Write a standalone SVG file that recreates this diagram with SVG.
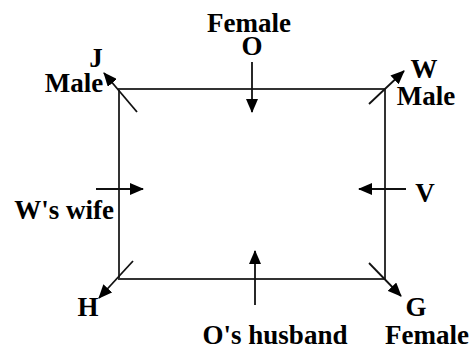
<svg xmlns="http://www.w3.org/2000/svg" width="476" height="352" viewBox="0 0 476 352">
<style>
text{font-family:"Liberation Serif","Times New Roman",serif;font-weight:bold;font-size:27px;fill:#000;text-anchor:middle}
.box{fill:none;stroke:#333;stroke-width:2}
.arr{stroke:#111;stroke-width:1.8;fill:none;marker-end:url(#ah)}
</style>
<defs>
<marker id="ah" markerUnits="userSpaceOnUse" markerWidth="14" markerHeight="12" viewBox="0 0 14 12" refX="13" refY="6" orient="auto">
<path d="M0,0 L14,6 L0,12 Z" fill="#000"/>
</marker>
</defs>
<g id="frame"><rect class="box" x="119" y="89" width="266" height="190"/></g>
<g id="connectors">
<line class="arr" x1="137" y1="112" x2="104" y2="73"/>
<line class="arr" x1="369" y1="104" x2="404" y2="71"/>
<line class="arr" x1="252" y1="62" x2="252" y2="112"/>
<line class="arr" x1="96" y1="189" x2="143" y2="189"/>
<line class="arr" x1="406" y1="189" x2="359" y2="189"/>
<line class="arr" x1="133" y1="261" x2="99" y2="298"/>
<line class="arr" x1="369" y1="263" x2="401" y2="296"/>
<line class="arr" x1="255" y1="305" x2="255" y2="251"/>
</g>
<g id="node-O"><text x="249" y="32">Female</text><text x="252" y="55">O</text></g>
<g id="node-J"><text x="96" y="67">J</text><text x="74" y="92">Male</text></g>
<g id="node-W"><text x="424" y="78">W</text><text x="426" y="105">Male</text></g>
<g id="node-Wwife"><text x="64" y="219">W's wife</text></g>
<g id="node-V"><text x="425" y="202">V</text></g>
<g id="node-H"><text x="88" y="316">H</text></g>
<g id="node-G"><text x="416" y="316">G</text><text x="427" y="344">Female</text></g>
<g id="node-Ohusband"><text x="275" y="344">O's husband</text></g>
</svg>
